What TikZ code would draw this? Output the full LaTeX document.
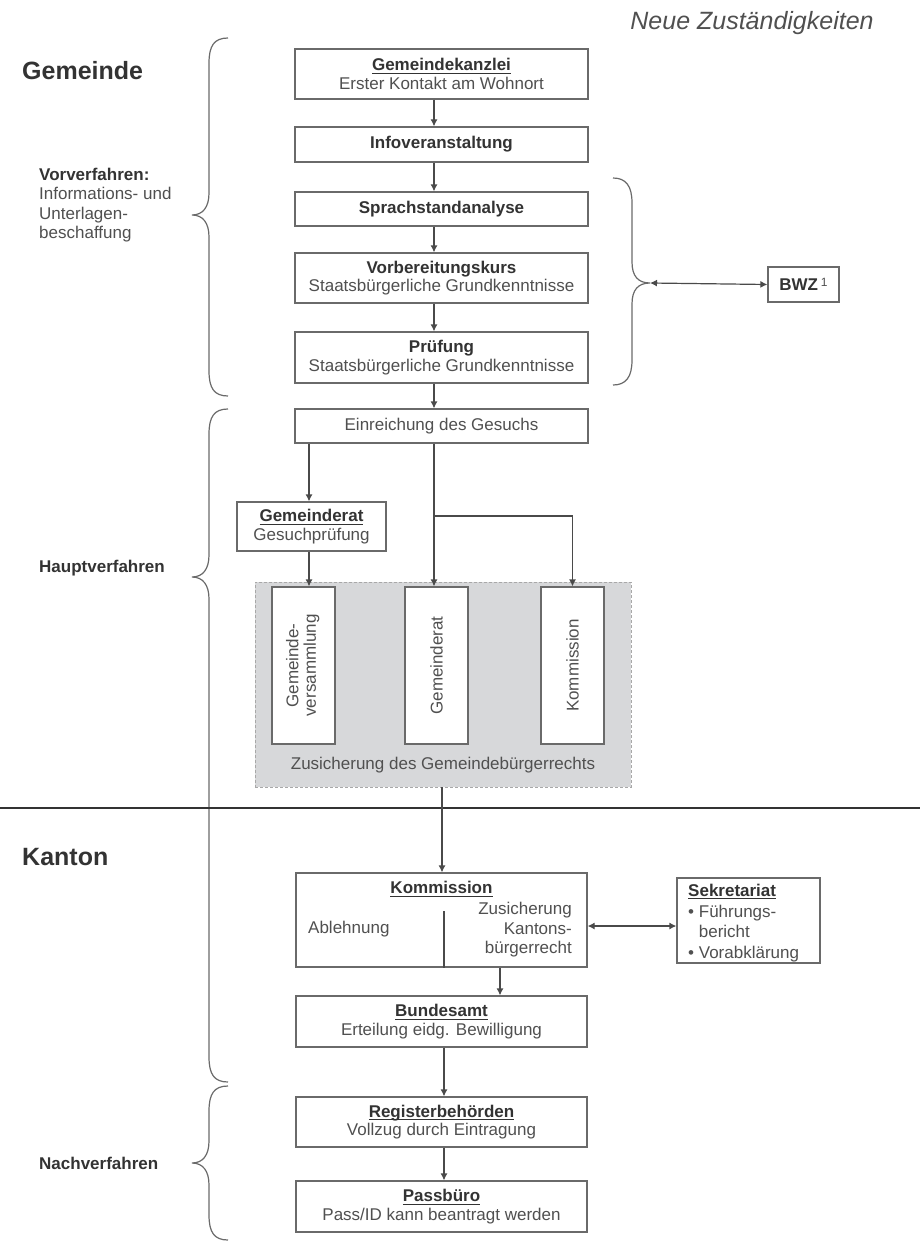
\documentclass[tikz,border=0pt]{standalone}
\usepackage{fontspec}
\setmainfont{Liberation Sans}
\usepackage{graphicx}
\usetikzlibrary{arrows.meta}
\definecolor{txtd}{HTML}{333333}
\definecolor{txtl}{HTML}{505050}
\definecolor{boxc}{HTML}{6A6A6A}
\definecolor{linec}{HTML}{4A4A4A}
\definecolor{bracec}{HTML}{6A6A6A}
\definecolor{grayfill}{HTML}{D7D8DA}
\definecolor{graydash}{HTML}{A8A8A8}
\newcommand\fsz{\fontsize{17}{18.5}\selectfont}
\newcommand\fsl{\fontsize{17}{19.3}\selectfont}
\newcommand\fsh{\fontsize{25}{28}\selectfont}
\newcommand\ul[1]{{\setbox0\hbox{#1}\rlap{\rule[-2.8pt]{\wd0}{0.9pt}}\box0}}
\newcommand\hd[1]{{\color{txtd}\bfseries\ul{#1}}}
\newcommand\mkbraceL[3]{%
  \draw[bracestyle] (228,#1) .. controls (214,#1) and (209,#1+8) .. (209,#1+25)
    -- (209,#2-22) .. controls (209,#2-8) and (203,#2) .. (192,#2)
    .. controls (203,#2) and (209,#2+8) .. (209,#2+22)
    -- (209,#3-25) .. controls (209,#3-8) and (214,#3) .. (228,#3);}
\begin{document}
\begin{tikzpicture}[x=1pt,y=-1pt,
  box/.style={draw=boxc, line width=1.2pt, fill=white, inner sep=0pt, align=center, font=\fsz, text=txtl},
  vbox/.style={draw=boxc, line width=1.2pt, fill=white, inner sep=0pt, font=\fsz, text=txtl, minimum width=63pt, minimum height=157pt},
  arr/.style={draw=linec, line width=1.2pt, -{Latex[length=7pt,width=7pt]}},
  darr/.style={draw=linec, line width=1.2pt, {Latex[length=7pt,width=7pt]}-{Latex[length=7pt,width=7pt]}},
  plain/.style={draw=linec, line width=1.2pt},
  bracestyle/.style={draw=bracec, line width=1.2pt},
  lab/.style={anchor=west, inner sep=0pt, font=\fsl, text=txtd, align=left},
  head/.style={anchor=west, inner sep=0pt, font=\fsh\bfseries, text=txtd},
  txt/.style={inner sep=0pt, font=\fsz, text=txtl}
]
\useasboundingbox (0,0) rectangle (920,1244);
\fill[white] (0,0) rectangle (920,1244);

% headings
\node[inner sep=0pt, font=\fsh\itshape, text=txtl] (title) at (752,23) {Neue Zuständigkeiten};
\node[head] (gemeinde) at (22,71) {Gemeinde};
\node[head] (kanton) at (22,857) {Kanton};
\node[lab, anchor=north west] (vorv) at (39,168) {\bfseries Vorverfahren:\\{\color{txtl}Informations- und}\\{\color{txtl}Unterlagen-}\\{\color{txtl}beschaffung}};
\node[lab, font=\fsl\bfseries] (haupt) at (39,568) {Hauptverfahren};
\node[lab, font=\fsl\bfseries] (nach) at (39,1163) {Nachverfahren};

% braces
\mkbraceL{38}{215}{396}
\mkbraceL{409}{577}{1082}
\mkbraceL{1086}{1163}{1240}
\draw[bracestyle] (613,178) .. controls (626,178) and (632,186) .. (632,203)
  -- (632,262) .. controls (632,276) and (638,283) .. (650,283)
  .. controls (638,283) and (632,290) .. (632,304)
  -- (632,360) .. controls (632,377) and (626,385) .. (613,385);
\coordinate (btip) at (650,283);

% separator
\coordinate (sepL) at (0,808);
\coordinate (sepR) at (920,808);
\draw[draw=txtd, line width=2pt] (sepL) -- (sepR);

% column coordinates
\coordinate (colA) at (434,0);
\coordinate (colL) at (309,0);
\coordinate (colK) at (442,0);
\coordinate (colB) at (500,0);
\coordinate (colR) at (444,0);

% Gemeinde boxes
\node[box, minimum width=293pt, minimum height=50pt] (kanzlei) at (441.5,74) {\hd{Gemeindekanzlei}\\Erster Kontakt am Wohnort};
\node[box, minimum width=293pt, minimum height=35pt] (info) at (441.5,144.5) {{\color{txtd}\bfseries Infoveranstaltung}};
\node[box, minimum width=293pt, minimum height=34pt] (sprach) at (441.5,209) {{\color{txtd}\bfseries Sprachstandanalyse}};
\node[box, minimum width=293pt, minimum height=50pt] (vorb) at (441.5,278) {{\color{txtd}\bfseries Vorbereitungskurs}\\Staatsbürgerliche Grundkenntnisse};
\node[box, minimum width=293pt, minimum height=51pt] (pruef) at (441.5,357.5) {{\color{txtd}\bfseries Prüfung}\\Staatsbürgerliche Grundkenntnisse};
\node[box, minimum width=293pt, minimum height=34pt] (einr) at (441.5,426) {Einreichung des Gesuchs};
\node[box, minimum width=149pt, minimum height=49pt] (grat) at (311.5,526.5) {\hd{Gemeinderat}\\Gesuchprüfung};
\node[box, minimum width=71pt, minimum height=35pt] (bwz) at (803.5,284.5) {{\color{txtd}\bfseries BWZ}\,\raisebox{0.5ex}{\fontsize{12}{12}\selectfont 1}};

% grey area
\node[draw=graydash, dash pattern=on 3pt off 2pt, line width=0.8pt, fill=grayfill, minimum width=376pt, minimum height=205pt, inner sep=0pt] (zgrp) at (443,684.5) {};
\node[vbox] (v1) at (303.5,665.5) {\rotatebox{90}{\begin{tabular}{@{}c@{}}Gemeinde-\\[-1pt]versammlung\end{tabular}}};
\node[vbox] (v2) at (436.5,665.5) {\rotatebox{90}{Gemeinderat}};
\node[vbox] (v3) at (572.5,665.5) {\rotatebox{90}{Kommission}};
\node[txt] (zustxt) at (443,765) {Zusicherung des Gemeindebürgerrechts};

% Kanton boxes
\node[box, minimum width=291pt, minimum height=94pt] (komm) at (441.5,920) {};
\node[txt, font=\fsz\bfseries, text=txtd] (kommT) at (441.5,889) {\ul{Kommission}};
\node[txt, anchor=west] (ablT) at (308,929) {Ablehnung};
\node[txt, anchor=east, align=right, font=\fontsize{17}{19.5}\selectfont] (zusT) at (572,930) {Zusicherung\\Kantons-\\bürgerrecht};
\coordinate (divtop) at (444,911);
\draw[plain] (divtop) -- (komm.south -| divtop);

\node[box, minimum width=143pt, minimum height=85pt] (sekr) at (748.5,920.5) {};
\node[txt, anchor=north west, align=left, font=\fontsize{17}{20.5}\selectfont] (sekrT) at (688,884) {\hd{Sekretariat}\\• Führungs-\\\phantom{• }bericht\\• Vorabklärung};

\node[box, minimum width=291pt, minimum height=51pt] (bund) at (441.5,1021.5) {\hd{Bundesamt}\\Erteilung eidg. Bewilligung};
\node[box, minimum width=291pt, minimum height=50pt] (reg) at (441.5,1122) {\hd{Registerbehörden}\\Vollzug durch Eintragung};
\node[box, minimum width=291pt, minimum height=51pt] (pass) at (441.5,1206.5) {\hd{Passbüro}\\Pass/ID kann beantragt werden};

% connectors
\draw[arr] (kanzlei.south -| colA) -- (info.north -| colA);
\draw[arr] (info.south -| colA) -- (sprach.north -| colA);
\draw[arr] (sprach.south -| colA) -- (vorb.north -| colA);
\draw[arr] (vorb.south -| colA) -- (pruef.north -| colA);
\draw[arr] (pruef.south -| colA) -- (einr.north -| colA);
\draw[arr] (einr.south -| colL) -- (grat.north -| colL);
\draw[arr] (grat.south -| colL) -- (v1.north -| colL);
\draw[arr] (einr.south -| colA) -- (v2.north -| colA);
\coordinate (branch) at (434,516);
\draw[arr] (branch) -| (v3.north);
\draw[darr] (btip) -- (bwz.west);
\draw[arr] (zgrp.south -| colK) -- (komm.north -| colK);
\draw[darr] (komm.east |- 0,926) -- (sekr.west |- 0,926);
\draw[arr] (komm.south -| colB) -- (bund.north -| colB);
\draw[arr] (bund.south -| colR) -- (reg.north -| colR);
\draw[arr] (reg.south -| colR) -- (pass.north -| colR);
\end{tikzpicture}
\end{document}
